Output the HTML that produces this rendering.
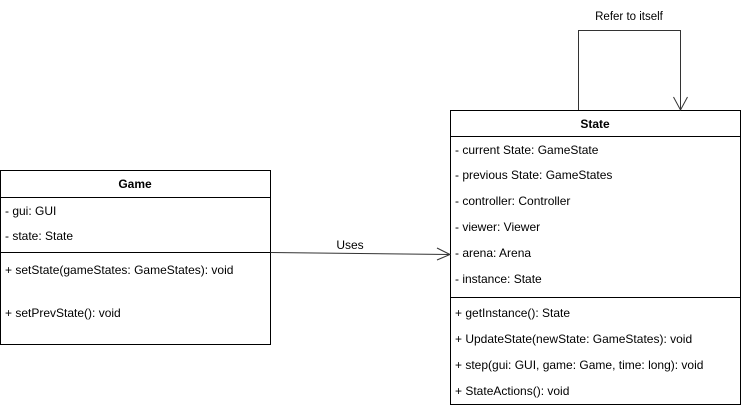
<!DOCTYPE html>
<html><head><style>
html,body{margin:0;padding:0;background:#fff;width:741px;height:407px;overflow:hidden}
svg text{font-family:"Liberation Sans",Arial,sans-serif;font-size:12px;fill:#000}
svg text.s{font-size:11.5px}
</style></head><body>
<svg width="741" height="407" viewBox="0 0 741 407" xmlns="http://www.w3.org/2000/svg">
<g fill="none" stroke="#000" stroke-width="1">
<rect x="0.5" y="170.5" width="270" height="174"/>
<line x1="0.5" y1="197.5" x2="270.5" y2="197.5"/>
<line x1="0.5" y1="252.5" x2="270.5" y2="252.5"/>
<rect x="450.5" y="110.5" width="290" height="294"/>
<line x1="450.5" y1="136.5" x2="740.5" y2="136.5"/>
<line x1="450.5" y1="297.5" x2="740.5" y2="297.5"/>
</g>
<g fill="none" stroke="#333" stroke-width="1">
<polyline points="578.5,110 578.5,30.5 680.5,30.5 680.5,110"/>
<polyline points="673.5,97 680.5,110 687.5,97"/>
<line x1="270.5" y1="252.5" x2="450" y2="254.5"/>
<polyline points="437,248 450,254.5 437,260"/>
</g>
<text class="s" x="629" y="20" text-anchor="middle">Refer to itself</text>
<text x="350" y="249" text-anchor="middle">Uses</text>
<text x="135" y="188" text-anchor="middle" font-weight="bold">Game</text>
<text x="5" y="215">- gui: GUI</text>
<text x="5" y="240">- state: State</text>
<text x="5" y="274">+ setState(gameStates: GameStates):  void</text>
<text x="5" y="317">+ setPrevState(): void</text>
<text x="595" y="128" text-anchor="middle" font-weight="bold">State</text>
<text x="455" y="154">- current State: GameState</text>
<text x="455" y="179">- previous State: GameStates</text>
<text x="455" y="205">- controller: Controller</text>
<text x="455" y="231">- viewer: Viewer</text>
<text x="455" y="257">- arena: Arena</text>
<text x="455" y="283">- instance: State</text>
<text x="455" y="317">+ getInstance(): State</text>
<text x="455" y="343">+ UpdateState(newState: GameStates): void</text>
<text x="455" y="369">+ step(gui: GUI, game: Game, time: long): void</text>
<text x="455" y="395">+ StateActions(): void</text>
</svg>
</body></html>
